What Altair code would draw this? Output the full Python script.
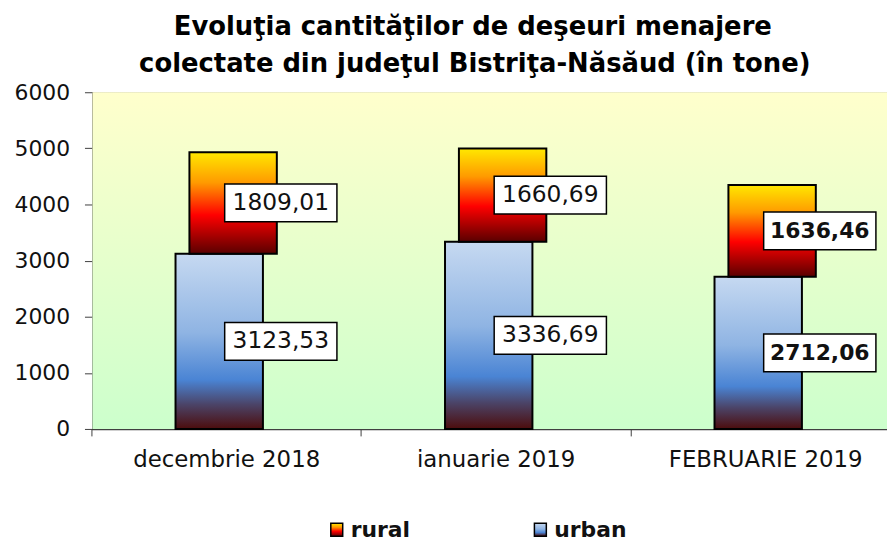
import altair as alt
import pandas as pd

months = ["decembrie 2018", "ianuarie 2019", "FEBRUARIE 2019"]
urban = [3123.53, 3336.69, 2712.06]
rural = [1809.01, 1660.69, 1636.46]
y_ticks = [0, 1000, 2000, 3000, 4000, 5000, 6000]
title_lines = ["Evoluţia cantităţilor de deşeuri menajere",
               "colectate din judeţul Bistriţa-Năsăud (în tone)"]
series_names = ["rural", "urban"]

W, H = 800, 339
FONT = "DejaVu Sans"


def fmt(v):
    return f"{v:.2f}".replace(".", ",")


rows = []
for m, u, r in zip(months, urban, rural):
    rows.append({"month": m, "series": "urban", "value": u, "lower": 0.0,
                 "upper": u, "mid": u / 2, "label": fmt(u)})
    rows.append({"month": m, "series": "rural", "value": r, "lower": u,
                 "upper": u + r, "mid": u + r / 2, "label": fmt(r)})
df = pd.DataFrame(rows)

bg_grad = alt.Gradient(gradient="linear", x1=0, y1=0, x2=0, y2=1,
                       stops=[alt.GradientStop(color="#FFFFCC", offset=0),
                              alt.GradientStop(color="#CCFFCC", offset=1)])
rural_grad = alt.Gradient(gradient="linear", x1=0, y1=0, x2=0, y2=1,
                          stops=[alt.GradientStop(color="#FFE800", offset=0),
                                 alt.GradientStop(color="#FF9A00", offset=0.3),
                                 alt.GradientStop(color="#FF0000", offset=0.62),
                                 alt.GradientStop(color="#5A0000", offset=1)])
urban_grad = alt.Gradient(gradient="linear", x1=0, y1=0, x2=0, y2=1,
                          stops=[alt.GradientStop(color="#C6D9F1", offset=0),
                                 alt.GradientStop(color="#8FB4E3", offset=0.45),
                                 alt.GradientStop(color="#4A84D4", offset=0.72),
                                 alt.GradientStop(color="#4B4468", offset=0.86),
                                 alt.GradientStop(color="#4C0C0C", offset=1)])

xscale = alt.Scale(domain=months, range=[-1, 813], paddingInner=0, paddingOuter=0)
yscale = alt.Scale(domain=[0, 6000], nice=False)

x_axis = alt.Axis(title=None, labelFont=FONT, labelFontSize=23,
                  labelColor="#111111", labelAngle=0, labelLimit=400,
                  labelBaseline="alphabetic", labelPadding=31,
                  tickBand="extent", tickSize=7, tickColor="#404040",
                  domainColor="#404040", domainWidth=1.5, grid=False)
y_axis = alt.Axis(title=None, values=y_ticks, format="d", labelFont=FONT,
                  labelFontSize=22, labelColor="#111111",
                  labelPadding=15, tickSize=8, tickColor="#404040",
                  domainColor="#404040", domainWidth=1.5,
                  gridColor="#A6A6A6", gridWidth=1)


def X():
    return alt.X("month:N", scale=xscale, sort=months, axis=x_axis)


def Y(field):
    return alt.Y(field, scale=yscale, axis=y_axis)


single = pd.DataFrame({"k": [0]})

background = alt.Chart(single).mark_rect(fill=bg_grad).encode(
    x=alt.value(0), x2=alt.value(W), y=alt.value(0), y2=alt.value(H))

urban_bars = alt.Chart(df).transform_filter(alt.datum.series == "urban").mark_bar(
    fill=urban_grad, stroke="black", strokeWidth=2, size=88, xOffset=-7).encode(
    x=X(), y=Y("upper:Q"), y2="lower:Q")

rural_bars = alt.Chart(df).transform_filter(alt.datum.series == "rural").mark_bar(
    fill=rural_grad, stroke="black", strokeWidth=2, size=88, xOffset=7).encode(
    x=X(), y=Y("upper:Q"), y2="lower:Q")

box_path = "M-1,-0.3363L1,-0.3363L1,0.3363L-1,0.3363Z"
boxes = alt.Chart(df).mark_point(
    shape=box_path, size=113 * 113, filled=True, fill="white", opacity=1,
    stroke="black", strokeWidth=1.5, xOffset=55).encode(
    x=X(), y=Y("mid:Q"))

labels_normal = alt.Chart(df).transform_filter(
    alt.datum.month != "FEBRUARIE 2019").mark_text(
    font=FONT, fontSize=23.5, color="#111111", xOffset=55, baseline="middle",
    align="center").encode(x=X(), y=Y("mid:Q"), text="label:N")

labels_bold = alt.Chart(df).transform_filter(
    alt.datum.month == "FEBRUARIE 2019").mark_text(
    font=FONT, fontSize=22, fontWeight="bold", color="#111111", xOffset=55,
    baseline="middle", align="center").encode(x=X(), y=Y("mid:Q"), text="label:N")

leg_rural = pd.DataFrame({"name": [series_names[0]]})
leg_urban = pd.DataFrame({"name": [series_names[1]]})

rural_sq = alt.Chart(leg_rural).mark_rect(fill=rural_grad, stroke="black",
                                          strokeWidth=1.5).encode(
    x=alt.value(240), x2=alt.value(252), y=alt.value(434), y2=alt.value(447))
rural_txt = alt.Chart(leg_rural).mark_text(
    font=FONT, fontSize=22, fontWeight="bold", color="#111111", align="left",
    baseline="alphabetic").encode(x=alt.value(260), y=alt.value(448), text="name:N")
urban_sq = alt.Chart(leg_urban).mark_rect(fill=urban_grad, stroke="black",
                                          strokeWidth=1.5).encode(
    x=alt.value(445), x2=alt.value(457), y=alt.value(434), y2=alt.value(447))
urban_txt = alt.Chart(leg_urban).mark_text(
    font=FONT, fontSize=22, fontWeight="bold", color="#111111", align="left",
    baseline="alphabetic").encode(x=alt.value(465), y=alt.value(448), text="name:N")

title1 = alt.Chart(pd.DataFrame({"line": [title_lines[0]]})).mark_text(
    font=FONT, fontSize=26, fontWeight="bold", color="#000000", align="center",
    baseline="alphabetic").encode(x=alt.value(383), y=alt.value(-58), text="line:N")
title2 = alt.Chart(pd.DataFrame({"line": [title_lines[1]]})).mark_text(
    font=FONT, fontSize=26, fontWeight="bold", color="#000000", align="center",
    baseline="alphabetic").encode(x=alt.value(385), y=alt.value(-20), text="line:N")

chart = alt.layer(
    background, urban_bars, rural_bars, boxes, labels_normal, labels_bold,
    rural_sq, rural_txt, urban_sq, urban_txt, title1, title2
).properties(
    width=W, height=H,
    autosize=alt.AutoSizeParams(type="none"),
    padding={"left": 85, "top": 83, "right": 0, "bottom": 112},
).configure_view(strokeWidth=0).configure(background="white")

chart.save("out.html", embed_options={"renderer": "svg", "actions": False})
